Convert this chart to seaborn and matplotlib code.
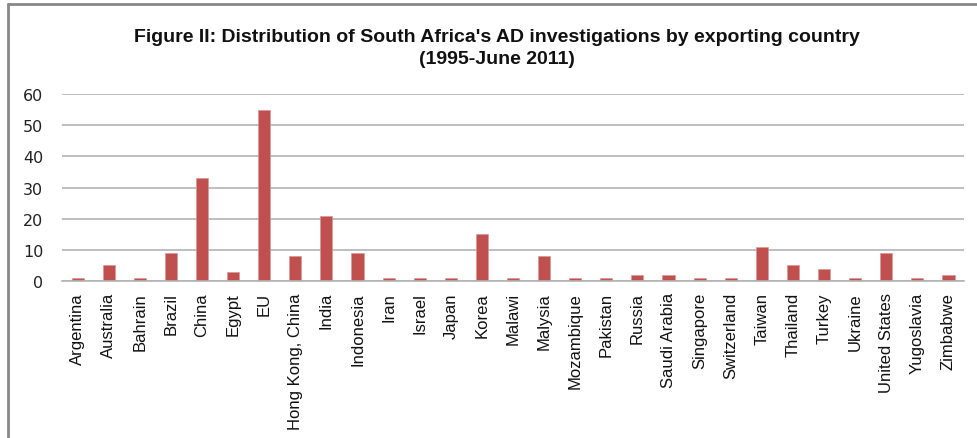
import matplotlib
matplotlib.use("Agg")
import matplotlib.pyplot as plt
import seaborn as sns
import pandas as pd
from matplotlib.lines import Line2D

countries = ["Argentina", "Australia", "Bahrain", "Brazil", "China", "Egypt", "EU",
             "Hong Kong, China", "India", "Indonesia", "Iran", "Israel", "Japan", "Korea",
             "Malawi", "Malysia", "Mozambique", "Pakistan", "Russia", "Saudi Arabia",
             "Singapore", "Switzerland", "Taiwan", "Thailand", "Turkey", "Ukraine",
             "United States", "Yugoslavia", "Zimbabwe"]
counts = [1, 5, 1, 9, 33, 3, 55, 8, 21, 9, 1, 1, 1, 15, 1, 8, 1, 1, 2, 2, 1, 1, 11, 5, 4, 1, 9, 1, 2]
yticks = [0, 10, 20, 30, 40, 50, 60]

df = pd.DataFrame({"country": countries, "count": counts})

sns.set_theme(style="white")
plt.rcParams['font.family'] = ['Liberation Sans', 'DejaVu Sans']

fig = plt.figure(figsize=(9.77, 4.39), dpi=100)
ax = fig.add_axes([0.0635, 0.3576, 0.9232, 0.426])

sns.barplot(data=df, x="country", y="count", color="#C0504D", width=0.39,
            saturation=1, ax=ax, edgecolor="#D99694", linewidth=0.5)

ax.set_ylim(0, 60)
ax.set_xlim(-0.5, len(countries) - 0.5)
ax.set_yticks(yticks)
ax.set_yticklabels([str(t) for t in yticks], fontsize=11.5, family='DejaVu Sans', color="#222222")
ax.yaxis.grid(True, color="#b3b3b3", linewidth=1.2)
ax.set_axisbelow(True)
ax.set_xticks(range(len(countries)))
ax.set_xticklabels(countries, rotation=90, fontsize=12, color="#111111")
ax.tick_params(axis='x', length=0, pad=8)
ax.tick_params(axis='y', length=0, pad=13.5)
ax.set_xlabel("")
ax.set_ylabel("")
for s in ["top", "right", "left"]:
    ax.spines[s].set_visible(False)
ax.spines["bottom"].set_color("#b3b3b3")
ax.spines["bottom"].set_linewidth(1.2)

fig.text(0.509, 0.89, "Figure II: Distribution of South Africa's AD investigations by exporting country\n(1995-June 2011)",
         ha="center", va="center", fontsize=14, fontweight="bold",
         family=['Liberation Sans'], linespacing=1.42, color="#111111")

# outer frame (left and top edges)
fig.add_artist(Line2D([8/977, 8/977], [0, 1 - 5/439], transform=fig.transFigure, color="#888888", linewidth=2))
fig.add_artist(Line2D([8/977, 1], [1 - 5/439, 1 - 5/439], transform=fig.transFigure, color="#888888", linewidth=2))

fig.savefig("out.png", dpi=100)
